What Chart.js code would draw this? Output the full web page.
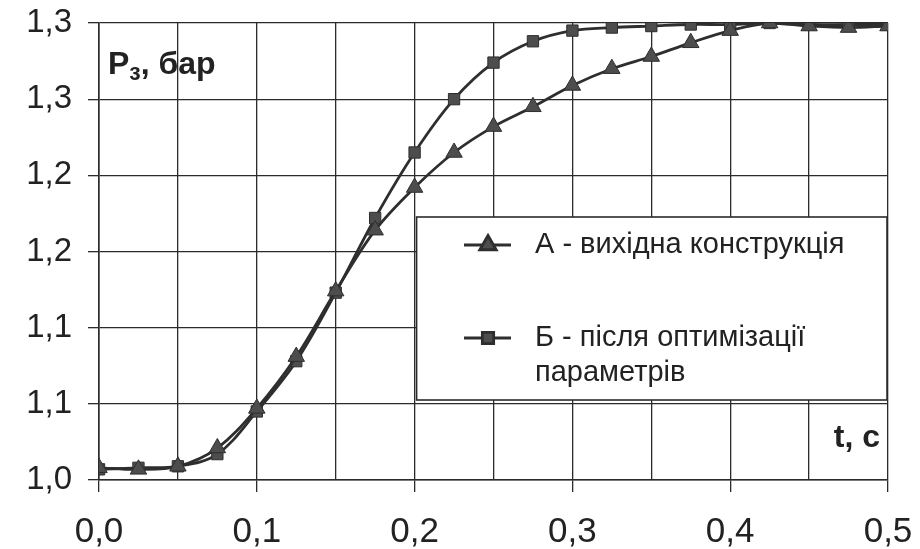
<!DOCTYPE html>
<html>
<head>
<meta charset="utf-8">
<script src="https://cdn.jsdelivr.net/npm/chart.js@4.4.0/dist/chart.umd.min.js"></script>
<style>
  html, body { margin: 0; padding: 0; background: #fff; }
  #wrap { width: 920px; height: 549px; }
</style>
</head>
<body>
<div id="wrap"><canvas id="pressureChart"></canvas></div>
<script>
// час, с
const timeValues = [0, 0.025, 0.05, 0.075, 0.1, 0.125, 0.15, 0.175, 0.2, 0.225, 0.25,
  0.275, 0.3, 0.325, 0.35, 0.375, 0.4, 0.425, 0.45, 0.475, 0.5];
// А - вихідна конструкція
const seriesA = [1.008, 1.007, 1.009, 1.021, 1.047, 1.081, 1.124, 1.164, 1.192, 1.215, 1.232,
  1.245, 1.259, 1.270, 1.278, 1.287, 1.295, 1.300, 1.298, 1.297, 1.298];
// Б - після оптимізації параметрів
const seriesB = [1.007, 1.008, 1.009, 1.017, 1.045, 1.078, 1.123, 1.172, 1.215, 1.250, 1.274,
  1.288, 1.295, 1.297, 1.298, 1.299, 1.299, 1.300, 1.299, 1.299, 1.299];

const xTickLabels = ['0,0', '0,1', '0,2', '0,3', '0,4', '0,5'];
const yTickLabels = ['1,0', '1,1', '1,1', '1,2', '1,2', '1,3', '1,3'];
const seriesNames = [['А - вихідна конструкція'], ['Б - після оптимізації', 'параметрів']];

const FONT = '"Liberation Sans", Arial, sans-serif';
const INK = '#2b2b2b';

function toPoints(values) {
  return timeValues.map((t, i) => ({ x: t, y: values[i] }));
}

// легенда в рамці та підписи осей
const chartNotes = {
  id: 'chartNotes',
  afterDraw(chart) {
    const ctx = chart.ctx;
    const area = chart.chartArea;
    const xs = chart.scales.x;
    ctx.save();

    // рамка легенди
    const bx = xs.getPixelForValue(0.2) + 2, by = 217, bw = area.right - bx - 1, bh = 183;
    ctx.fillStyle = '#fff';
    ctx.fillRect(bx, by, bw, bh);
    ctx.strokeStyle = INK;
    ctx.lineWidth = 1.6;
    ctx.strokeRect(bx, by, bw, bh);

    const rows = [245, 338];
    chart.data.datasets.forEach((ds, i) => {
      const y = rows[i];
      ctx.strokeStyle = ds.borderColor;
      ctx.lineWidth = ds.borderWidth;
      ctx.beginPath();
      ctx.moveTo(464, y);
      ctx.lineTo(511, y);
      ctx.stroke();
      ctx.fillStyle = ds.backgroundColor;
      ctx.strokeStyle = ds.pointBorderColor;
      Chart.helpers.drawPoint(ctx, {
        pointStyle: ds.pointStyle, radius: ds.pointRadius,
        borderWidth: ds.pointBorderWidth, rotation: 0
      }, 488, y);
      ctx.fillStyle = '#222';
      ctx.font = '29px ' + FONT;
      ctx.textBaseline = 'middle';
      ctx.textAlign = 'left';
      seriesNames[i].forEach((line, k) => ctx.fillText(line, 535, y + k * 35));
    });

    // P з, бар
    ctx.fillStyle = '#222';
    ctx.textBaseline = 'alphabetic';
    ctx.textAlign = 'left';
    ctx.font = 'bold 32px ' + FONT;
    ctx.fillText('P', 108, 74);
    const pw = ctx.measureText('P').width;
    ctx.font = 'bold 23px ' + FONT;
    ctx.fillText('з', 108 + pw, 80);
    const zw = ctx.measureText('з').width;
    ctx.font = 'bold 32px ' + FONT;
    ctx.fillText(', бар', 108 + pw + zw, 74);

    // t, c
    ctx.textAlign = 'right';
    ctx.fillText('t, c', 880, 447);
    ctx.restore();
  }
};

new Chart(document.getElementById('pressureChart').getContext('2d'), {
  type: 'line',
  data: {
    datasets: [
      {
        label: seriesNames[0].join(' '),
        data: toPoints(seriesA),
        borderColor: '#2e2e2e',
        backgroundColor: '#4d4d4d',
        pointBorderColor: '#2e2e2e',
        pointBorderWidth: 1,
        pointStyle: 'triangle',
        pointRadius: 9.5,
        borderWidth: 2.8,
        tension: 0.35
      },
      {
        label: seriesNames[1].join(' '),
        data: toPoints(seriesB),
        borderColor: '#2e2e2e',
        backgroundColor: '#4d4d4d',
        pointBorderColor: '#2e2e2e',
        pointBorderWidth: 1,
        pointStyle: 'rect',
        pointRadius: 8,
        borderWidth: 2.8,
        tension: 0.35
      }
    ]
  },
  options: {
    responsive: true,
    maintainAspectRatio: false,
    animation: false,
    layout: { padding: { left: 0, right: 32, top: 23, bottom: 0 } },
    plugins: {
      legend: { display: false },
      tooltip: { enabled: false }
    },
    scales: {
      x: {
        type: 'linear',
        min: 0,
        max: 0.5,
        afterFit(scale) {
          scale.height = 69;
          scale.paddingLeft = 0;
          scale.paddingRight = 0;
        },
        ticks: {
          stepSize: 0.05,
          autoSkip: false,
          maxRotation: 0,
          padding: 19,
          color: '#222',
          font: { family: FONT, size: 35 },
          callback: (v, i) => (i % 2 === 0 ? xTickLabels[i / 2] : '')
        },
        grid: {
          color: INK,
          lineWidth: 1.3,
          tickLength: 12,
          tickColor: (c) => (c.index % 2 === 0 ? INK : 'rgba(0,0,0,0)')
        },
        border: { color: INK, width: 1.6 }
      },
      y: {
        min: 1.0,
        max: 1.3,
        afterFit(scale) {
          scale.width = 99;
          scale.paddingTop = 0;
          scale.paddingBottom = 0;
        },
        ticks: {
          stepSize: 0.05,
          padding: 16,
          color: '#222',
          font: { family: FONT, size: 33 },
          callback: (v, i) => yTickLabels[i]
        },
        grid: {
          color: INK,
          lineWidth: 1.3,
          tickLength: 11
        },
        border: { color: INK, width: 1.6 }
      }
    }
  },
  plugins: [chartNotes]
});
</script>
</body>
</html>
